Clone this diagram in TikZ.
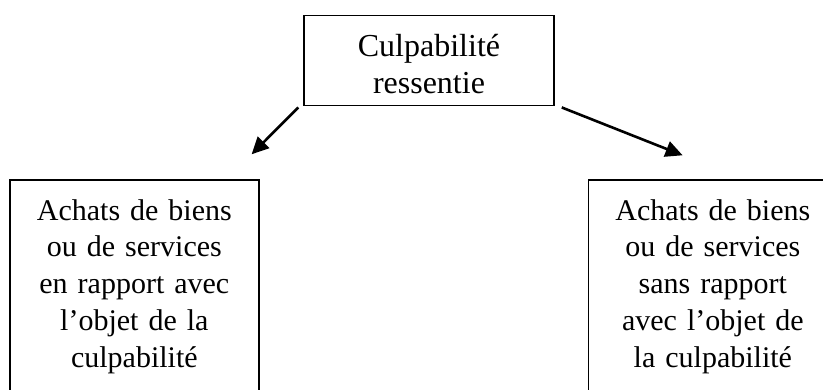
\documentclass[tikz,border=0pt]{standalone}
\usepackage{fontspec}
\setmainfont{Liberation Serif}
\usetikzlibrary{arrows.meta,positioning}

\tikzstyle{box} = [draw,line width=1.5pt,align=center,font=\fontsize{30}{36.8}\selectfont]
\tikzstyle{arrow} = [line width=2.6pt,-{Triangle[length=17pt,width=16pt]}]

\begin{document}
\begin{tikzpicture}[x=1pt,y=1pt]
\useasboundingbox (0,0) rectangle (823,389);

% Top box
\node [box,font=\fontsize{32}{36.8}\selectfont,minimum width=250pt,minimum height=90pt,inner sep=0pt] (culp) at (429,328.3) {\rule{0pt}{28.8pt}Culpabilité\\ressentie};

% Bottom boxes
\node [box,anchor=north,text width=249pt,inner xsep=0pt,inner ysep=19.2pt] (lien) at (134.35,209.7) {Achats de biens\\ou de services\\en rapport avec\\l’objet de la\\culpabilité};
\node [box,text width=249pt,inner xsep=0pt,inner ysep=19.2pt,right=328pt of lien] (sans) {Achats de biens\\ou de services\\sans rapport\\avec l’objet de\\la culpabilité};

% Arrows
\draw [arrow] ([xshift=-5pt,yshift=-1pt]culp.south west) -- ([xshift=-8pt,yshift=25pt]lien.north east);
\draw [arrow] ([xshift=7pt,yshift=-1pt]culp.south east) -- ([xshift=95pt,yshift=24pt]sans.north west);

\end{tikzpicture}
\end{document}
